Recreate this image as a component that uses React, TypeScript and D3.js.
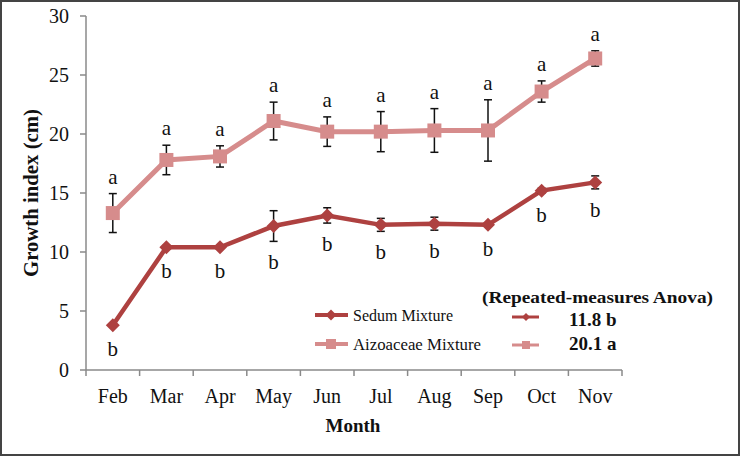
import React from "react";
import * as d3 from "d3";

const months = ["Feb", "Mar", "Apr", "May", "Jun", "Jul", "Aug", "Sep", "Oct", "Nov"];
const sedum = [3.8, 10.4, 10.4, 12.2, 13.1, 12.3, 12.4, 12.3, 15.2, 15.9];
const sedumErr = [0.1, 0.15, 0.15, 1.3, 0.65, 0.55, 0.55, 0.1, 0.2, 0.55];
const aizo = [13.3, 17.8, 18.1, 21.1, 20.2, 20.2, 20.3, 20.3, 23.6, 26.4];
const aizoErr = [1.65, 1.25, 0.9, 1.6, 1.25, 1.7, 1.85, 2.6, 0.9, 0.65];
const sedumLetters = ["b", "b", "b", "b", "b", "b", "b", "b", "b", "b"];
const aizoLetters = ["a", "a", "a", "a", "a", "a", "a", "a", "a", "a"];
const yTicks = [0, 5, 10, 15, 20, 25, 30];
const seriesNames = ["Sedum Mixture", "Aizoaceae Mixture"];
const anovaMeans = ["11.8 b", "20.1 a"];

const W = 741;
const H = 456;
const SEDUM_COLOR = "#AE4140";
const AIZO_COLOR = "#D68C8C";
const FONT = "'Liberation Serif', 'Times New Roman', serif";

export default function App() {
  const left = 86, right = 622, top = 16, bottom = 370;
  const x = d3.scaleBand<string>().domain(months).range([left, right]);
  const y = d3.scaleLinear().domain([0, 30]).range([bottom, top]);
  const cx = (m: string) => (x(m) as number) + x.bandwidth() / 2;
  const line = d3.line<number>().x((_, i) => cx(months[i])).y((d) => y(d));
  const diamond = (s: number) => `M0,${-s}L${s},0L0,${s}L${-s},0Z`;

  return (
    <svg width={W} height={H} style={{ display: "block", position: "absolute", left: 0, top: 0 }} fontFamily={FONT}>
      <rect x={1} y={1} width={W - 3} height={H - 2} fill="#fff" stroke="#444" strokeWidth={2} />
      {/* y axis */}
      <line x1={left} x2={left} y1={top} y2={bottom} stroke="#8a8a8a" strokeWidth={1.5} />
      {yTicks.map((t) => (
        <g key={t}>
          <line x1={left - 6} x2={left} y1={y(t)} y2={y(t)} stroke="#8a8a8a" strokeWidth={1.5} />
          <text x={69} y={y(t) + 7} textAnchor="end" fontSize={20} fill="#111">{t}</text>
        </g>
      ))}
      {/* x axis */}
      <line x1={left} x2={right} y1={bottom} y2={bottom} stroke="#8a8a8a" strokeWidth={1.5} />
      {months.map((m) => (
        <line key={"t" + m} x1={x(m) as number} x2={x(m) as number} y1={bottom} y2={bottom + 6} stroke="#8a8a8a" strokeWidth={1.5} />
      ))}
      <line x1={right} x2={right} y1={bottom} y2={bottom + 6} stroke="#8a8a8a" strokeWidth={1.5} />
      {months.map((m) => (
        <text key={"l" + m} x={cx(m)} y={403} textAnchor="middle" fontSize={20} fill="#111">{m}</text>
      ))}
      <text x={353} y={432} textAnchor="middle" fontSize={19} fontWeight="bold" fill="#111">Month</text>
      <text transform="translate(38,193) rotate(-90)" textAnchor="middle" fontSize={20} fontWeight="bold" fill="#111" textLength={168} lengthAdjust="spacingAndGlyphs">Growth  index (cm)</text>

      {/* Aizoaceae series */}
      <path d={line(aizo) as string} fill="none" stroke={AIZO_COLOR} strokeWidth={5} />
      {aizo.map((v, i) => {
        const px = cx(months[i]);
        const t = y(v + aizoErr[i]);
        const b = y(v - aizoErr[i]);
        return (
          <g key={"a" + i}>
            <line x1={px} x2={px} y1={t} y2={b} stroke="#111" strokeWidth={1.5} />
            <line x1={px - 4} x2={px + 4} y1={t} y2={t} stroke="#111" strokeWidth={1.5} />
            <line x1={px - 4} x2={px + 4} y1={b} y2={b} stroke="#111" strokeWidth={1.5} />
            <rect x={px - 7} y={y(v) - 7} width={14} height={14} fill={AIZO_COLOR} />
            <text x={px} y={t - 10} textAnchor="middle" fontSize={21} fill="#111">{aizoLetters[i]}</text>
          </g>
        );
      })}

      {/* Sedum series */}
      <path d={line(sedum) as string} fill="none" stroke={SEDUM_COLOR} strokeWidth={4.5} />
      {sedum.map((v, i) => {
        const px = cx(months[i]);
        const t = y(v + sedumErr[i]);
        const b = y(v - sedumErr[i]);
        return (
          <g key={"s" + i}>
            <line x1={px} x2={px} y1={t} y2={b} stroke="#111" strokeWidth={1.5} />
            <line x1={px - 4} x2={px + 4} y1={t} y2={t} stroke="#111" strokeWidth={1.5} />
            <line x1={px - 4} x2={px + 4} y1={b} y2={b} stroke="#111" strokeWidth={1.5} />
            <path d={diamond(7)} transform={`translate(${px},${y(v)})`} fill={SEDUM_COLOR} />
            <text x={px} y={Math.max(y(v) + 31, b + 28)} textAnchor="middle" fontSize={21} fill="#111">{sedumLetters[i]}</text>
          </g>
        );
      })}

      {/* Legend */}
      <line x1={315} x2={348} y1={315} y2={315} stroke={SEDUM_COLOR} strokeWidth={4} />
      <path d={diamond(5.5)} transform="translate(331,315)" fill={SEDUM_COLOR} />
      <text x={353} y={321} fontSize={16} fill="#111">{seriesNames[0]}</text>
      <line x1={315} x2={348} y1={344} y2={344} stroke={AIZO_COLOR} strokeWidth={4} />
      <rect x={326} y={339} width={10} height={10} fill={AIZO_COLOR} />
      <text x={353} y={350} fontSize={16} fill="#111" textLength={128} lengthAdjust="spacingAndGlyphs">{seriesNames[1]}</text>

      <text x={482} y={303} fontSize={17} fontWeight="bold" fill="#111" textLength={231} lengthAdjust="spacingAndGlyphs">(Repeated-measures Anova)</text>
      <line x1={512} x2={539} y1={317} y2={317} stroke={SEDUM_COLOR} strokeWidth={3} />
      <path d={diamond(4)} transform="translate(526,317)" fill={SEDUM_COLOR} />
      <text x={569} y={326} fontSize={19} fontWeight="bold" fill="#111">{anovaMeans[0]}</text>
      <line x1={512} x2={539} y1={345} y2={345} stroke={AIZO_COLOR} strokeWidth={3} />
      <rect x={522} y={341} width={8} height={8} fill={AIZO_COLOR} />
      <text x={569} y={350} fontSize={19} fontWeight="bold" fill="#111">{anovaMeans[1]}</text>
    </svg>
  );
}
